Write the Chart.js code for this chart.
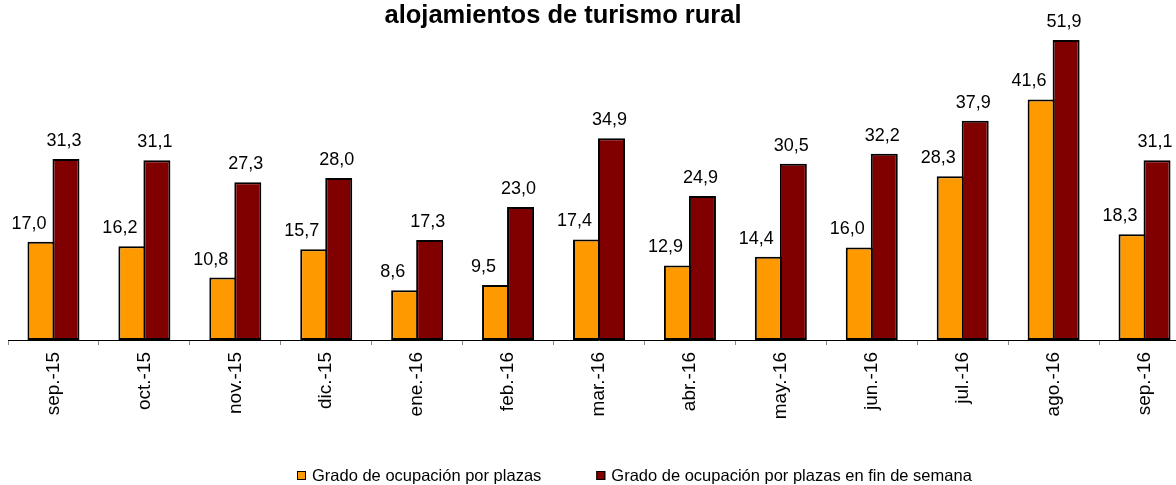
<!DOCTYPE html>
<html>
<head>
<meta charset="utf-8">
<script src="https://cdn.jsdelivr.net/npm/chart.js@4/dist/chart.umd.min.js"></script>
<style>
  html, body { margin: 0; padding: 0; overflow: hidden; background: #fff; }
  #caja { position: relative; width: 1200px; height: 485px; }
</style>
</head>
<body>
<div id="caja"><canvas id="grafico" width="1200" height="485"></canvas></div>
<script>
// Datos de la gráfica
const meses = ["sep.-15", "oct.-15", "nov.-15", "dic.-15", "ene.-16", "feb.-16", "mar.-16",
               "abr.-16", "may.-16", "jun.-16", "jul.-16", "ago.-16", "sep.-16"];
const plazas = [17.0, 16.2, 10.8, 15.7, 8.6, 9.5, 17.4, 12.9, 14.4, 16.0, 28.3, 41.6, 18.3];
const finSemana = [31.3, 31.1, 27.3, 28.0, 17.3, 23.0, 34.9, 24.9, 30.5, 32.2, 37.9, 51.9, 31.1];
const series = ["Grado de ocupación por plazas", "Grado de ocupación por plazas en fin de semana"];
const titulo = "alojamientos de turismo rural";

const fuente = "'Liberation Sans', Arial, sans-serif";

// Etiquetas de valor encima de cada barra
const etiquetas = {
  id: "etiquetas",
  afterDatasetsDraw(chart) {
    const ctx = chart.ctx;
    ctx.save();
    ctx.font = "18px " + fuente;
    ctx.fillStyle = "#000";
    ctx.textAlign = "center";
    ctx.textBaseline = "alphabetic";
    chart.data.datasets.forEach((ds, i) => {
      const desplaza = i === 0 ? -12 : -2;
      chart.getDatasetMeta(i).data.forEach((barra, j) => {
        const texto = ds.data[j].toFixed(1).replace(".", ",");
        ctx.fillText(texto, barra.x + desplaza, barra.y - 13);
      });
    });
    ctx.restore();
  }
};

// Título y leyenda dibujados a mano (no centrados en el lienzo)
const tituloLeyenda = {
  id: "tituloLeyenda",
  afterDraw(chart) {
    const ctx = chart.ctx;
    ctx.save();
    ctx.fillStyle = "#000";
    ctx.font = "bold 25.5px " + fuente;
    ctx.textAlign = "center";
    ctx.textBaseline = "alphabetic";
    ctx.fillText(titulo, 563, 23);

    ctx.font = "16.5px " + fuente;
    ctx.textAlign = "left";
    ctx.textBaseline = "middle";
    let x = 297;
    chart.data.datasets.forEach(ds => {
      ctx.fillStyle = ds.backgroundColor;
      ctx.fillRect(x, 471, 9, 9);
      ctx.strokeStyle = "#000";
      ctx.lineWidth = 1;
      ctx.strokeRect(x + 0.5, 471.5, 8, 8);
      ctx.fillStyle = "#000";
      ctx.fillText(ds.label, x + 15, 476);
      x += 15 + ctx.measureText(ds.label).width + 55;
    });
    ctx.restore();
  }
};

const ctx = document.getElementById("grafico").getContext("2d");
const grafico = new Chart(ctx, {
  type: "bar",
  data: {
    labels: meses,
    datasets: [
      {
        label: series[0],
        data: plazas,
        backgroundColor: "#FF9900",
        borderColor: "#000",
        borderWidth: 2,
        borderSkipped: false,
        inflateAmount: 0,
        categoryPercentage: 0.55,
        barPercentage: 1.08
      },
      {
        label: series[1],
        data: finSemana,
        backgroundColor: "#800000",
        borderColor: "#000",
        borderWidth: 2,
        borderSkipped: false,
        inflateAmount: 0,
        categoryPercentage: 0.55,
        barPercentage: 1.08
      }
    ]
  },
  options: {
    responsive: false,
    animation: false,
    layout: { padding: { left: 8, right: 10, top: 0, bottom: 0 } },
    plugins: {
      legend: { display: false },
      title: { display: false },
      tooltip: { enabled: false }
    },
    scales: {
      x: {
        offset: true,
        grid: {
          offset: true,
          drawOnChartArea: false,
          drawTicks: true,
          tickLength: 5,
          color: "#888"
        },
        border: { color: "#000", width: 1 },
        ticks: {
          autoSkip: false,
          minRotation: 90,
          maxRotation: 90,
          padding: 7,
          color: "#000",
          font: { family: fuente, size: 19 }
        },
        afterFit(scale) { scale.height = 145; }
      },
      y: {
        display: false,
        min: 0,
        max: 58.8
      }
    }
  },
  plugins: [etiquetas, tituloLeyenda]
});
</script>
</body>
</html>
